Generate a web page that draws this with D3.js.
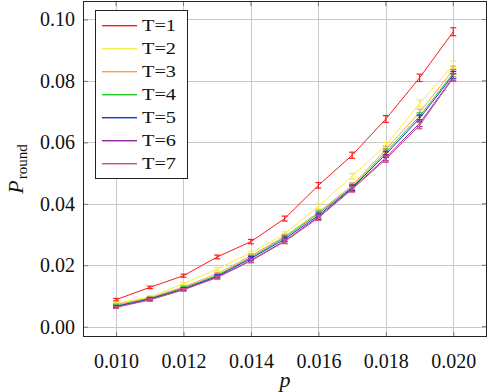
<!DOCTYPE html>
<html><head><meta charset="utf-8">
<script src="https://cdn.jsdelivr.net/npm/d3@7"></script>
<style>body{margin:0;background:#fff}svg{display:block}text{font-family:"Liberation Serif","DejaVu Serif",serif}</style>
</head><body>
<svg id="c" width="488" height="392"></svg>
<script>
const pValues = [0.010,0.011,0.012,0.013,0.014,0.015,0.016,0.017,0.018,0.019,0.020];
const seriesNames = ["T=1","T=2","T=3","T=4","T=5","T=6","T=7"];
const seriesColors = ["#ff1a1a","#f4ee4a","#ffa04a","#22cc22","#1f2fe0","#8e2aa0","#cc4f85"];
const T1 = [0.0088,0.0128,0.0166,0.0227,0.0277,0.0352,0.0460,0.0558,0.0676,0.0810,0.0960];
const T2 = [0.0076,0.0097,0.0140,0.0188,0.0240,0.0302,0.0392,0.0490,0.0590,0.0727,0.0852];
const T3 = [0.0072,0.0094,0.0130,0.0172,0.0231,0.0294,0.0372,0.0460,0.0577,0.0697,0.0836];
const T4 = [0.0068,0.0092,0.0126,0.0167,0.0226,0.0290,0.0368,0.0455,0.0568,0.0685,0.0825];
const T5 = [0.0066,0.0090,0.0123,0.0164,0.0222,0.0285,0.0362,0.0452,0.0561,0.0678,0.0819];
const T6 = [0.0064,0.0088,0.0121,0.0161,0.0216,0.0279,0.0357,0.0449,0.0550,0.0662,0.0812];
const T7 = [0.0063,0.0087,0.0120,0.0160,0.0214,0.0277,0.0354,0.0447,0.0545,0.0655,0.0810];
const errT1 = [0.0004,0.0004,0.0005,0.0006,0.0007,0.0008,0.0009,0.0010,0.0011,0.0012,0.0013];
const errOther = [0.0003,0.0004,0.0004,0.0005,0.0006,0.0007,0.0008,0.0009,0.0010,0.0011,0.0012];
const xTicks = [0.010,0.012,0.014,0.016,0.018,0.020];
const yTicks = [0.00,0.02,0.04,0.06,0.08,0.10];
const allSeries = [T1,T2,T3,T4,T5,T6,T7];
const allErr = [errT1,errOther,errOther,errOther,errOther,errOther,errOther];

const svg = d3.select("#c");
const ML=83, MT=1, W=404, H=336;
const x = d3.scaleLinear().domain([0.00902,0.02100]).range([0,W]);
const y = d3.scaleLinear().domain([-0.00335,0.1060]).range([H,0]);
const g = svg.append("g").attr("transform",`translate(${ML},${MT})`);

// grid
g.append("g").selectAll("line").data(xTicks).join("line")
  .attr("x1",d=>Math.round(x(d))+0.5).attr("x2",d=>Math.round(x(d))+0.5)
  .attr("y1",0).attr("y2",H).attr("stroke","#c8c8c8").attr("stroke-width",1);
g.append("g").selectAll("line").data(yTicks).join("line")
  .attr("y1",d=>Math.round(y(d))+0.5).attr("y2",d=>Math.round(y(d))+0.5)
  .attr("x1",0).attr("x2",W).attr("stroke","#c8c8c8").attr("stroke-width",1);

// axes (ticks inside)
const xAxis = d3.axisBottom(x).tickValues(xTicks).tickFormat(d3.format(".3f")).tickSize(-5).tickPadding(12);
const yAxis = d3.axisLeft(y).tickValues(yTicks).tickFormat(d3.format(".2f")).tickSize(-5).tickPadding(12);
const gx = g.append("g").attr("transform",`translate(0,${H})`).call(xAxis);
const gy = g.append("g").call(yAxis);
[gx,gy].forEach(a=>{
  a.attr("font-family",null).attr("font-size",null);
  a.select(".domain").remove();
  a.selectAll(".tick line").attr("stroke","#777");
  a.selectAll("text").style("font-family","'Liberation Serif'").style("font-size","20px").attr("fill","#111");
});
gy.selectAll("text").attr("dx",4);
gx.selectAll("text").attr("dy","0.95em");
g.append("g").selectAll("line").data(xTicks).join("line")
  .attr("x1",d=>x(d)).attr("x2",d=>x(d)).attr("y1",0).attr("y2",5).attr("stroke","#777");
g.append("g").selectAll("line").data(yTicks).join("line")
  .attr("y1",d=>y(d)).attr("y2",d=>y(d)).attr("x1",W).attr("x2",W-5).attr("stroke","#777");

// series
const line = d3.line().x((d,i)=>x(pValues[i])).y(d=>y(d));
allSeries.forEach((s,k)=>{
  const c = seriesColors[k];
  const sg = g.append("g");
  sg.append("path").datum(s).attr("d",line).attr("fill","none").attr("stroke",c).attr("stroke-width",1);
  const e = allErr[k];
  const eb = sg.selectAll("g.eb").data(s).join("g").attr("class","eb");
  eb.append("line").attr("x1",(d,i)=>x(pValues[i])).attr("x2",(d,i)=>x(pValues[i]))
    .attr("y1",(d,i)=>y(d-e[i])).attr("y2",(d,i)=>y(d+e[i])).attr("stroke",c).attr("stroke-width",1.2);
  eb.append("line").attr("x1",(d,i)=>x(pValues[i])-3).attr("x2",(d,i)=>x(pValues[i])+3)
    .attr("y1",(d,i)=>y(d-e[i])).attr("y2",(d,i)=>y(d-e[i])).attr("stroke",c).attr("stroke-width",1.2);
  eb.append("line").attr("x1",(d,i)=>x(pValues[i])-3).attr("x2",(d,i)=>x(pValues[i])+3)
    .attr("y1",(d,i)=>y(d+e[i])).attr("y2",(d,i)=>y(d+e[i])).attr("stroke",c).attr("stroke-width",1.2);
});

// frame
g.append("rect").attr("x",0.5).attr("y",0.5).attr("width",W-1).attr("height",H-1)
  .attr("fill","none").attr("stroke","#222").attr("stroke-width",1);

// legend
const lg = svg.append("g").attr("transform","translate(95,10)");
lg.append("rect").attr("x",0.5).attr("y",0.5).attr("width",92).attr("height",168)
  .attr("fill","#fff").attr("stroke","#222").attr("stroke-width",1);
const le = lg.selectAll("g.le").data(seriesNames).join("g").attr("class","le")
  .attr("transform",(d,k)=>`translate(0,${15+k*23})`);
le.append("rect").attr("x",7).attr("y",0).attr("width",35).attr("height",1.4)
  .attr("fill",(d,k)=>seriesColors[k]);
le.append("text").attr("x",47).attr("y",6).text(d=>d)
  .style("font-size","17px").attr("fill","#111")
  .attr("textLength",34).attr("lengthAdjust","spacingAndGlyphs");

// axis labels
svg.append("text").attr("x",ML+W/2).attr("y",387).attr("text-anchor","middle")
  .style("font-style","italic").style("font-size","22px").attr("fill","#111").text("p");
const yl = svg.append("text").attr("transform",`translate(23,${MT+H/2}) rotate(-90)`)
  .attr("text-anchor","middle").style("font-size","22px").attr("fill","#111");
yl.append("tspan").style("font-style","italic").text("P");
yl.append("tspan").style("font-size","15px").attr("dy",4).attr("dx",1).text("round");
</script>
</body></html>
